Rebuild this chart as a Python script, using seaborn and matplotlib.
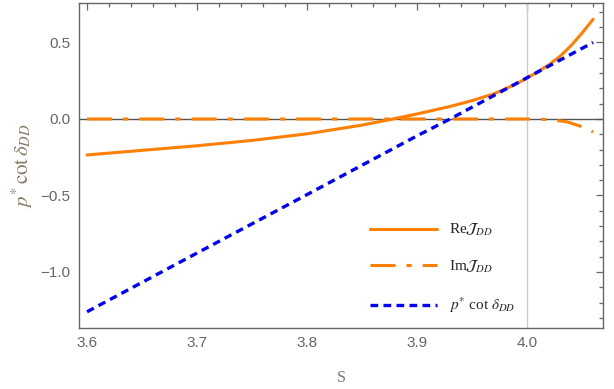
import numpy as np
import pandas as pd
import matplotlib
matplotlib.use("Agg")
import matplotlib.pyplot as plt
import seaborn as sns
from matplotlib.ticker import MultipleLocator

# values
s_re = [3.60, 3.65, 3.70, 3.75, 3.80, 3.85, 3.878, 3.90, 3.93, 3.95, 3.97,
        3.99, 4.00, 4.01, 4.02, 4.03, 4.04, 4.05, 4.06]
re_j = [-0.235, -0.205, -0.175, -0.140, -0.097, -0.040, 0.000, 0.033, 0.082,
        0.120, 0.165, 0.228, 0.268, 0.310, 0.355, 0.410, 0.480, 0.562, 0.652]

s_im = [3.60, 3.80, 3.90, 4.00, 4.01, 4.02, 4.036, 4.048, 4.060]
im_j = [0.0, 0.0, 0.0, 0.0, -0.001, -0.004, -0.018, -0.046, -0.085]

s_pc = [3.60, 3.70, 3.80, 3.90, 3.93, 4.00, 4.06]
p_cot = [-1.26, -0.876, -0.494, -0.110, 0.0, 0.270, 0.500]

labels = [r"Re$\mathcal{J}_{DD}$", r"Im$\mathcal{J}_{DD}$",
          r"$p^{*}$ cot $\delta_{DD}$"]

orange = "#ff7f00"
blue = "#0000ff"
gray = "#666666"

sns.set_style("white")
plt.rcParams["mathtext.fontset"] = "stix"
plt.rcParams["font.family"] = ["Liberation Sans", "DejaVu Sans"]

fig = plt.figure(figsize=(6.14, 3.89), dpi=100)
ax = fig.add_axes([79 / 614, 1 - 328 / 389, 524 / 614, 325 / 389])

ax.axhline(0, color="#555555", lw=1.0, zorder=1)
ax.axvline(4.0, color="#cccccc", lw=1.0, zorder=1)

sns.lineplot(x=s_re, y=re_j, ax=ax, color=orange, lw=2.2, label=labels[0])
sns.lineplot(x=s_im, y=im_j, ax=ax, color=orange, lw=2.2,
             linestyle=(0, (8.2, 3.6, 1.7, 3.6)), label=labels[1])
sns.lineplot(x=s_pc, y=p_cot, ax=ax, color=blue, lw=2.4,
             linestyle=(0, (2.3, 1.6)), label=labels[2])

ax.set_xlim(3.5927, 4.069)
ax.set_ylim(-1.366, 0.758)

ax.xaxis.set_major_locator(MultipleLocator(0.1))
ax.xaxis.set_minor_locator(MultipleLocator(0.02))
ax.yaxis.set_major_locator(MultipleLocator(0.5))
ax.yaxis.set_minor_locator(MultipleLocator(0.1))
ax.tick_params(which="both", direction="in", top=True, right=True,
               color=gray, labelcolor=gray, labelsize=11, width=0.9)
ax.tick_params(which="major", length=5, pad=6)
ax.tick_params(which="minor", length=3)
ax.xaxis.set_major_formatter(matplotlib.ticker.FormatStrFormatter("%.1f"))
ax.yaxis.set_major_formatter(
    matplotlib.ticker.FuncFormatter(lambda v, p: f"{v:.1f}".replace("-", "\u2212")))
for sp in ax.spines.values():
    sp.set_color(gray)
    sp.set_linewidth(1.0)

ax.set_xlabel("S", family="Liberation Serif", color="#777777", fontsize=11.5,
              labelpad=14)
ax.set_ylabel(r"$p^{*}\,\mathrm{cot}\,\delta_{DD}$", color="#8a7a66",
              fontsize=15, labelpad=4)

leg = ax.legend(loc="lower left", bbox_to_anchor=(0.555, 0.04), frameon=False,
                borderpad=0, borderaxespad=0, handlelength=4.4,
                handletextpad=0.8, labelspacing=1.35,
                prop={"family": "Liberation Serif", "size": 11})

fig.savefig("out.png", dpi=100)
